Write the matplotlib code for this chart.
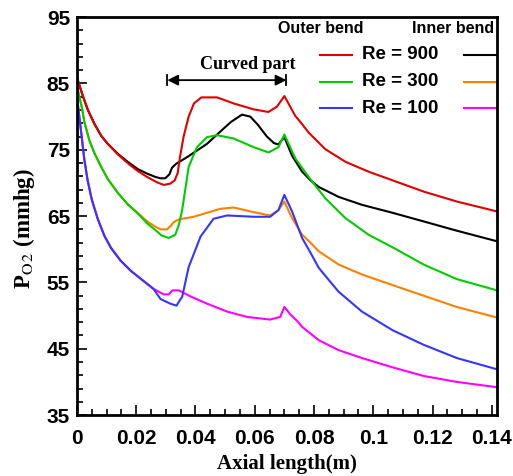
import matplotlib
matplotlib.use("Agg")
import matplotlib.pyplot as plt
from matplotlib.ticker import MultipleLocator

# Re = 900, outer bend
x_red = [0, 0.002, 0.0036, 0.0059, 0.0082, 0.0104, 0.0138, 0.0171, 0.0205, 0.0237, 0.027, 0.0293,
         0.0315, 0.033, 0.034, 0.0347, 0.036, 0.0377, 0.0395, 0.042, 0.0473, 0.0528, 0.0596,
         0.0646, 0.0675, 0.07, 0.0737, 0.0754, 0.0782, 0.0838, 0.0906, 0.0984, 0.1065, 0.117,
         0.1282, 0.1418]
y_red = [85.9, 83.1, 81.1, 78.9, 77.1, 75.9, 74.3, 73.0, 71.8, 70.9, 70.1, 69.7,
         69.9, 70.4, 71.5, 73.7, 77.0, 80.0, 82.0, 82.9, 82.9, 82.0, 81.1,
         80.7, 81.5, 83.1, 80.1, 79.2, 77.6, 75.1, 73.2, 71.7, 70.4, 68.7,
         67.2, 65.7]

# Re = 900, inner bend
x_black = [0, 0.002, 0.0036, 0.0059, 0.0082, 0.0104, 0.0138, 0.0171, 0.0205, 0.0237, 0.0265, 0.0282,
           0.0298, 0.0312, 0.0321, 0.0335, 0.0372, 0.0439, 0.0495, 0.052, 0.0557, 0.0585, 0.061,
           0.0641, 0.0665, 0.068, 0.07, 0.0726, 0.076, 0.0788, 0.0816, 0.0883, 0.0962, 0.1065,
           0.117, 0.1282, 0.1418]
y_black = [85.9, 83.1, 81.1, 78.9, 77.1, 75.9, 74.4, 73.2, 72.1, 71.4, 70.9, 70.7,
           70.7, 71.3, 72.3, 72.9, 73.9, 75.9, 78.2, 79.2, 80.3, 80.0, 78.8,
           77.0, 76.0, 75.8, 76.9, 74.1, 71.7, 70.4, 69.4, 67.9, 66.7, 65.5,
           64.2, 62.8, 61.2]

# Re = 300, outer bend
x_green = [0, 0.0008, 0.0016, 0.0025, 0.0042, 0.0059, 0.0082, 0.0104, 0.0138, 0.0171, 0.0205, 0.0237,
           0.0265, 0.0285, 0.031, 0.0332, 0.0344, 0.0355, 0.0377, 0.0405, 0.0439, 0.0473, 0.0529,
           0.0596, 0.0647, 0.068, 0.07, 0.0737, 0.0782, 0.0838, 0.0906, 0.0984, 0.1065, 0.117,
           0.1282, 0.1418]
y_green = [84.6, 83.0, 81.5, 79.2, 76.4, 74.5, 72.4, 70.6, 68.5, 66.8, 65.4, 63.9,
           62.9, 62.1, 61.7, 62.2, 63.7, 65.9, 72.4, 75.4, 76.9, 77.2, 76.7,
           75.4, 74.6, 75.4, 77.3, 73.7, 70.9, 67.7, 64.7, 62.2, 60.3, 57.7,
           55.5, 53.8]

# Re = 300, inner bend
x_orange = [0, 0.0008, 0.0016, 0.0025, 0.0042, 0.0059, 0.0082, 0.0104, 0.0138, 0.0171, 0.0205, 0.0237,
            0.0265, 0.0282, 0.0304, 0.0316, 0.0327, 0.0344, 0.0394, 0.0484, 0.0529, 0.0596, 0.0652,
            0.068, 0.07, 0.0726, 0.076, 0.0788, 0.0816, 0.0883, 0.0962, 0.1065, 0.117, 0.1282,
            0.1418]
y_orange = [84.6, 83.0, 81.5, 79.2, 76.4, 74.5, 72.4, 70.6, 68.5, 66.8, 65.5, 64.2,
            63.4, 63.0, 63.0, 63.5, 64.1, 64.5, 64.9, 66.1, 66.3, 65.6, 65.1,
            65.9, 67.2, 64.7, 62.2, 61.0, 59.7, 57.7, 56.2, 54.6, 53.0, 51.3,
            49.7]

# Re = 100, outer bend
x_blue = [0, 0.0012, 0.0025, 0.0036, 0.005, 0.007, 0.0093, 0.0115, 0.0147, 0.0183, 0.0214, 0.0259,
          0.0282, 0.0315, 0.0336, 0.0347, 0.0355, 0.0377, 0.0417, 0.0461, 0.0507, 0.0596, 0.0652,
          0.068, 0.07, 0.0726, 0.076, 0.0788, 0.0816, 0.0883, 0.0962, 0.1065, 0.117, 0.1282, 0.1418]
y_blue = [83.0, 78.5, 73.5, 70.4, 67.5, 64.6, 62.0, 60.2, 58.3, 56.7, 55.6, 54.0,
          52.5, 51.8, 51.5, 52.3, 52.8, 57.3, 61.9, 64.6, 65.1, 64.9, 64.9,
          65.9, 68.2, 65.7, 61.7, 59.5, 57.2, 53.6, 50.6, 47.8, 45.6, 43.6, 41.9]

# Re = 100, inner bend
x_magenta = [0, 0.0012, 0.0025, 0.0036, 0.005, 0.007, 0.0093, 0.0115, 0.0147, 0.0183, 0.0214, 0.0259,
             0.0293, 0.031, 0.0322, 0.0344, 0.0383, 0.0439, 0.0507, 0.0574, 0.0652, 0.0686, 0.07,
             0.072, 0.0743, 0.076, 0.0788, 0.0816, 0.0883, 0.0962, 0.1065, 0.117, 0.1282, 0.1418]
y_magenta = [83.0, 78.5, 73.5, 70.4, 67.5, 64.6, 62.0, 60.2, 58.3, 56.7, 55.6, 54.0,
             53.2, 53.2, 53.8, 53.8, 52.9, 51.8, 50.6, 49.8, 49.4, 49.8, 51.3,
             50.2, 49.2, 48.3, 47.3, 46.3, 44.8, 43.6, 42.2, 40.9, 40.0, 39.2]

re_labels = ["Re = 900", "Re = 300", "Re = 100"]
curved_start, curved_end = 0.0305, 0.0707

sans = ["Liberation Sans", "DejaVu Sans"]
serif = ["Liberation Serif", "DejaVu Serif"]
plt.rcParams["mathtext.fontset"] = "stix"
plt.rcParams["lines.solid_joinstyle"] = "round"

fig = plt.figure(figsize=(5.13, 4.76), dpi=100)
ax = fig.add_axes([0.150, 0.128, 0.819, 0.836])

lw = 1.5
outer = [(x_red, y_red, "#e00000"), (x_green, y_green, "#00cc00"), (x_blue, y_blue, "#3535ff")]
inner = [(x_black, y_black, "black"), (x_orange, y_orange, "#ff8000"), (x_magenta, y_magenta, "#ff00ff")]
for (xo, yo, co), (xi, yi, ci) in zip(outer, inner):
    ax.plot(xi, yi, color=ci, lw=lw)
    ax.plot(xo, yo, color=co, lw=lw)

ax.set_xlim(0, 0.1418)
ax.set_ylim(35, 95)
ax.set_xticks([0, 0.02, 0.04, 0.06, 0.08, 0.1, 0.12, 0.14])
ax.set_xticklabels(["0", "0.02", "0.04", "0.06", "0.08", "0.1", "0.12", "0.14"])
ax.xaxis.set_minor_locator(MultipleLocator(0.005))
ax.set_yticks([35, 45, 55, 65, 75, 85, 95])
ax.yaxis.set_minor_locator(MultipleLocator(2, offset=1))
ax.tick_params(which="both", direction="in", top=False, right=False, width=1.2)
ax.tick_params(which="major", length=7)
ax.tick_params(which="minor", length=4)
ax.tick_params(axis="x", which="major", pad=10)
ax.tick_params(axis="y", which="major", pad=5)
for lab in ax.get_xticklabels() + ax.get_yticklabels():
    lab.set_family(sans)
    lab.set_fontweight("bold")
    lab.set_fontsize(15)
for sp in ax.spines.values():
    sp.set_linewidth(2)

ax.set_xlabel("Axial length(m)", family=serif, fontweight="bold", fontsize=15)
ax.xaxis.set_label_coords(0.5, -0.098)
ax.set_ylabel(r"P$_{\mathrm{O\,2}}$ (mmhg)", family=serif, fontweight="bold", fontsize=16.5)
ax.yaxis.set_label_coords(-0.095, 0.47)

# curved part marker
ya = 85.5
ax.annotate("", xy=(curved_start, ya), xytext=(curved_end, ya),
            arrowprops=dict(arrowstyle="<|-|>", color="black", lw=1.3, mutation_scale=16,
                            shrinkA=0, shrinkB=0))
for xb in (curved_start, curved_end):
    ax.plot([xb, xb], [ya - 0.8, ya + 0.8], color="black", lw=1.3)
ax.text(0.0575, 87.8, "Curved part", family=serif, fontweight="bold", fontsize=13,
        ha="center", va="center")

# legend
ax.text(0.581, 0.972, "Outer bend", transform=ax.transAxes, family=sans, fontweight="bold",
        fontsize=11.5, ha="center", va="center")
ax.text(0.896, 0.972, "Inner bend", transform=ax.transAxes, family=sans, fontweight="bold",
        fontsize=11.5, ha="center", va="center")
rows = [0.905, 0.837, 0.771]
for ry, lab, (_, _, co), (_, _, ci) in zip(rows, re_labels, outer, inner):
    ax.plot([0.579, 0.655], [ry, ry], color=co, lw=lw, transform=ax.transAxes)
    ax.plot([0.921, 1.0], [ry, ry], color=ci, lw=lw, transform=ax.transAxes)
    ax.text(0.679, ry, lab, transform=ax.transAxes, family=sans, fontweight="bold",
            fontsize=13.5, ha="left", va="center")

fig.savefig("out.png", dpi=100)
